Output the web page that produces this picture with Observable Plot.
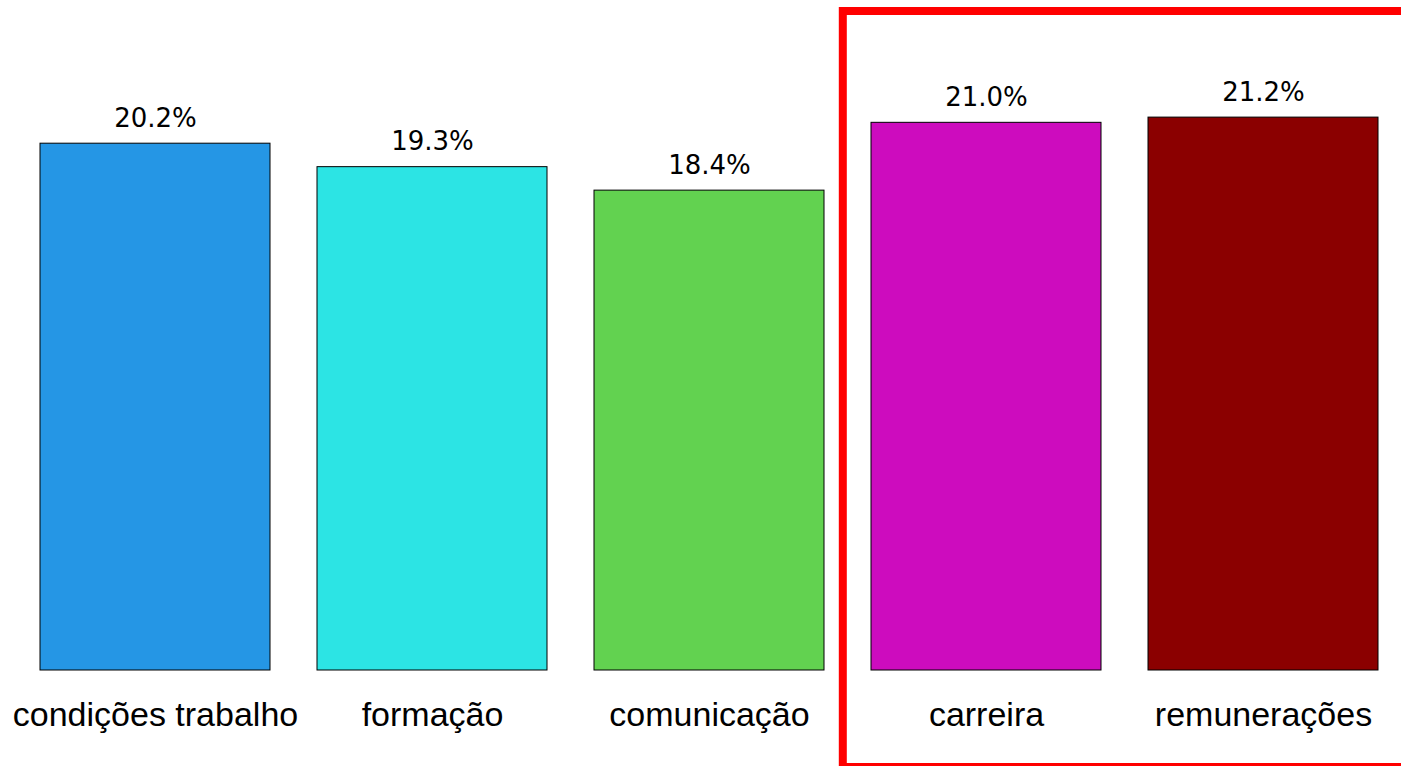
<!DOCTYPE html>
<html>
<head>
<meta charset="utf-8">
<script src="https://cdn.jsdelivr.net/npm/d3@7"></script>
<script src="https://cdn.jsdelivr.net/npm/@observablehq/plot@0.6"></script>
<style>
  html, body { margin: 0; padding: 0; background: #fff; overflow: hidden; }
  #chart svg { display: block; }
</style>
</head>
<body>
<div id="chart"></div>
<script>
const categories = ["condições trabalho", "formação", "comunicação", "carreira", "remunerações"];
const values = [20.2, 19.3, 18.4, 21.0, 21.2];
const colors = ["#2596e5", "#2ce4e4", "#62d250", "#cd0cbe", "#8b0000"];
const valueLabels = ["20.2%", "19.3%", "18.4%", "21.0%", "21.2%"];
const highlighted = ["carreira", "remunerações"];

const data = categories.map((c, i) => ({cat: c, value: values[i], color: colors[i], label: valueLabels[i]}));

const W = 1401, H = 766;
const plot = Plot.plot({
  width: W,
  height: H,
  marginLeft: 40,
  marginRight: 23,
  marginTop: 18,
  marginBottom: 96,
  style: {background: "#fff", overflow: "visible"},
  x: {domain: categories, paddingInner: 0.17, paddingOuter: 0, axis: null},
  y: {domain: [0, 25], axis: null},
  color: {type: "identity"},
  marks: [
    Plot.barY(data, {x: "cat", y: "value", fill: "color", stroke: "#000", strokeWidth: 1}),
    Plot.text(data, {x: "cat", y: "value", text: "label", dy: -17, lineAnchor: "bottom",
      fontSize: 26, fontFamily: "DejaVu Sans", fill: "#000"}),
    Plot.text(data, {x: "cat", y: 0, text: "cat", dy: 55, lineAnchor: "bottom",
      fontSize: 34, fontFamily: "Liberation Sans", fill: "#000"})
  ]
});
document.getElementById("chart").appendChild(plot);

// highlight box around the highlighted categories, positioned with the plot's scales
const xs = plot.scale("x"), ys = plot.scale("y");
const gap = xs.step - xs.bandwidth;
const boxLeft = xs.apply(highlighted[0]) - gap * 0.6;
const boxTop = ys.apply(25) - 7;
d3.select(plot).append("rect")
  .attr("x", boxLeft)
  .attr("y", boxTop)
  .attr("width", W - boxLeft + 20)
  .attr("height", H - boxTop + 1)
  .attr("fill", "none")
  .attr("stroke", "#ff0000")
  .attr("stroke-width", 8);
</script>
</body>
</html>
